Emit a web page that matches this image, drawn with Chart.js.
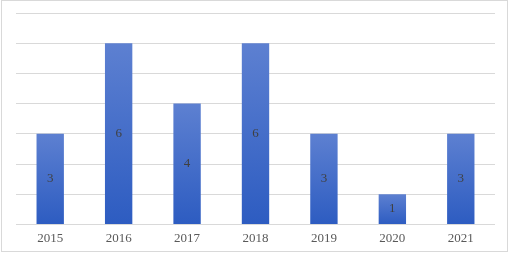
<!DOCTYPE html>
<html>
<head>
<meta charset="utf-8">
<script src="https://cdn.jsdelivr.net/npm/chart.js@4"></script>
<style>
    html, body { margin: 0; padding: 0; background: #ffffff; }
    #wrap { width: 511px; height: 253px; position: relative; }
</style>
</head>
<body>
<div id="wrap"><canvas id="barChart"></canvas></div>
<script>
    const years = ['2015', '2016', '2017', '2018', '2019', '2020', '2021'];
    const counts = [3, 6, 4, 6, 3, 1, 3];
    const yMax = 7;

    // gradient for each bar, from its top to the baseline
    function barGradient(context) {
        const chart = context.chart;
        if (!chart.chartArea || !chart.scales.y) return '#4a72cc';
        const y = chart.scales.y;
        const top = y.getPixelForValue(counts[context.dataIndex]);
        const bottom = y.getPixelForValue(0);
        const g = chart.ctx.createLinearGradient(0, top, 0, bottom);
        g.addColorStop(0, '#5d80d1');
        g.addColorStop(1, '#2d5cc1');
        return g;
    }

    // frame + value labels in the middle of the bars
    const extras = {
        id: 'extras',
        beforeDraw(chart) {
            const c = chart.ctx;
            c.save();
            c.strokeStyle = '#d9d9d9';
            c.lineWidth = 1;
            c.strokeRect(1.5, 0.5, 506, 251);
            c.restore();
        },
        afterDatasetsDraw(chart) {
            const c = chart.ctx;
            const meta = chart.getDatasetMeta(0);
            c.save();
            c.font = '13px "Liberation Serif", "Times New Roman", serif';
            c.fillStyle = '#404040';
            c.textAlign = 'center';
            c.textBaseline = 'middle';
            meta.data.forEach((bar, i) => {
                c.fillText(String(counts[i]), bar.x, (bar.y + bar.base) / 2);
            });
            c.restore();
        }
    };

    new Chart(document.getElementById('barChart'), {
        type: 'bar',
        data: {
            labels: years,
            datasets: [{
                data: counts,
                backgroundColor: barGradient,
                borderWidth: 0,
                barPercentage: 0.8,
                categoryPercentage: 0.5
            }]
        },
        options: {
            responsive: true,
            maintainAspectRatio: false,
            animation: false,
            layout: { padding: { left: 16, right: 16, top: 13, bottom: 1 } },
            plugins: {
                legend: { display: false },
                tooltip: { enabled: false }
            },
            scales: {
                x: {
                    grid: { display: false, drawTicks: false },
                    border: { display: false },
                    ticks: {
                        color: '#595959',
                        padding: 6,
                        font: { family: '"Liberation Serif", "Times New Roman", serif', size: 13 }
                    }
                },
                y: {
                    min: 0,
                    max: yMax,
                    ticks: { display: false, stepSize: 1 },
                    grid: { color: '#d9d9d9', lineWidth: 1, drawTicks: false },
                    border: { display: false }
                }
            }
        },
        plugins: [extras]
    });
</script>
</body>
</html>
